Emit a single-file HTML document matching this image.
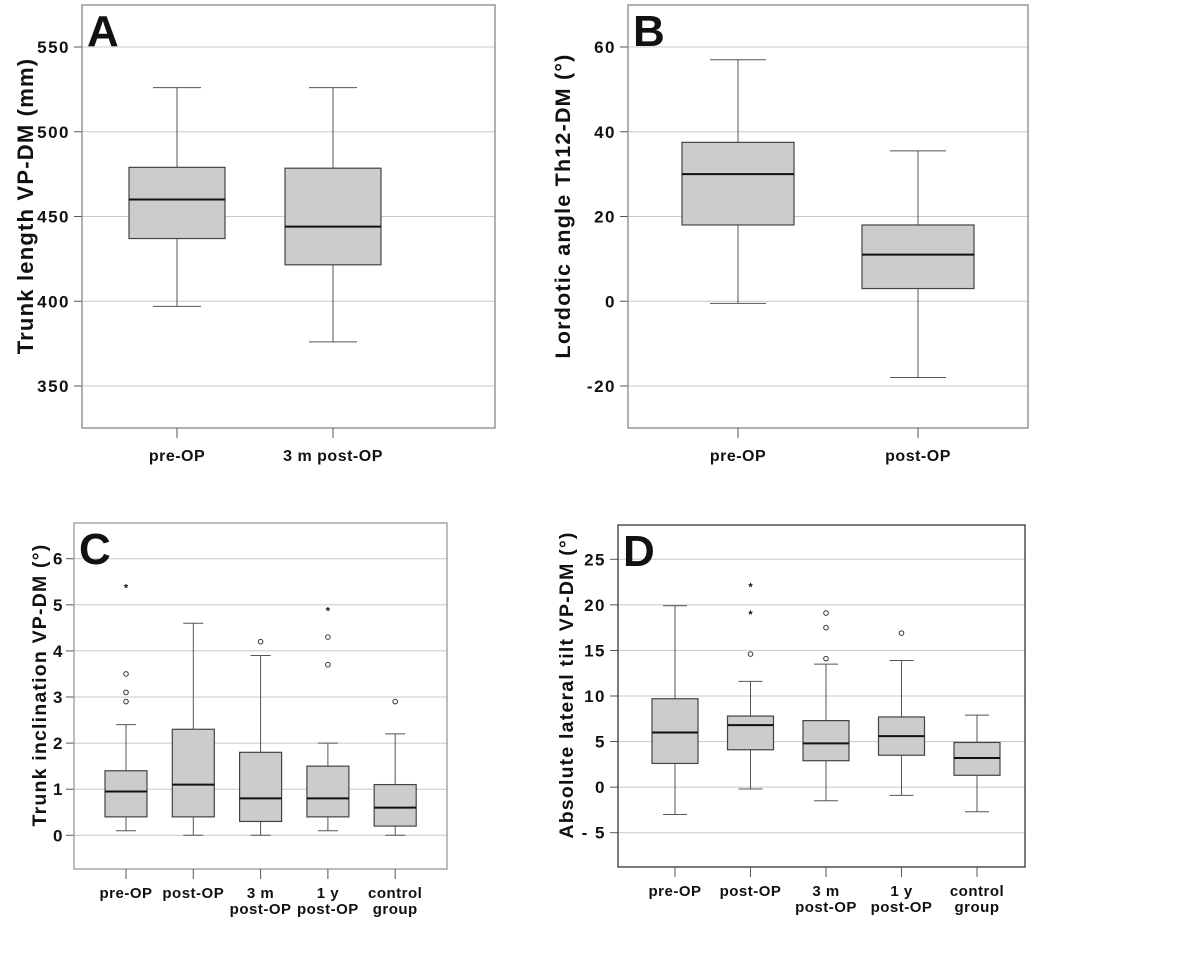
<!DOCTYPE html>
<html><head><meta charset="utf-8"><style>
html,body{margin:0;padding:0;background:#fff}
svg{display:block}
text{font-family:"Liberation Sans",Arial,sans-serif;font-weight:bold;fill:#111}
</style></head><body>
<svg id="c" width="1200" height="959" viewBox="0 0 1200 959" xmlns="http://www.w3.org/2000/svg"></svg>
<script>
// Panel A
const catsA = ["pre-OP","3 m post-OP"];
const loA = [397,376], q1A=[437,421.5], medA=[460,444], q3A=[479,478.5], hiA=[526,526];
const ticksA = [350,400,450,500,550];
// Panel B
const catsB = ["pre-OP","post-OP"];
const loB=[-0.5,-18], q1B=[18,3], medB=[30,11], q3B=[37.5,18], hiB=[57,35.5];
const ticksB=[-20,0,20,40,60];
const tickLabB=["-20","0","20","40","60"];
// Panel C
const catsC=[["pre-OP"],["post-OP"],["3 m","post-OP"],["1 y","post-OP"],["control","group"]];
const loC=[0.1,0,0,0.1,0], q1C=[0.4,0.4,0.3,0.4,0.2], medC=[0.95,1.1,0.8,0.8,0.6], q3C=[1.4,2.3,1.8,1.5,1.1], hiC=[2.4,4.6,3.9,2.0,2.2];
const circC=[[2.9,3.1,3.5],[],[4.2],[3.7,4.3],[2.9]];
const starC=[[5.4],[],[],[4.9],[]];
const ticksC=[0,1,2,3,4,5,6];
// Panel D
const catsD=catsC;
const loD=[-3,-0.2,-1.5,-0.9,-2.7], q1D=[2.6,4.1,2.9,3.5,1.3], medD=[6.0,6.8,4.8,5.6,3.2], q3D=[9.7,7.8,7.3,7.7,4.9], hiD=[19.9,11.6,13.5,13.9,7.9];
const circD=[[],[14.6],[14.1,17.5,19.1],[16.9],[]];
const starD=[[],[19.1,22.1],[],[],[]];
const ticksD=[-5,0,5,10,15,20,25];
const tickLabD=["- 5","0","5","10","15","20","25"];

const svg=document.getElementById('c');
const NS="http://www.w3.org/2000/svg";
function mk(tag,attrs,parent){const e=document.createElementNS(NS,tag);for(const k in attrs)e.setAttribute(k,attrs[k]);(parent||svg).appendChild(e);return e;}

function panel(p){
  const g=mk('g',{});
  
  
  const y=v=>p.y0+(v-p.v0)*(p.y1-p.y0)/(p.v1-p.v0);
  p.ticks.forEach((t,i)=>{
    const gl=mk('line',{x1:p.L,x2:p.R,y1:y(t),y2:y(t),stroke:'#c8c8c8','stroke-width':1},g);
    
    
    mk('line',{x1:p.L-8,x2:p.L,y1:y(t),y2:y(t),stroke:'#555','stroke-width':1},g);
    const tl=mk('text',{x:p.L-p.tickGap,y:y(t)+6,'text-anchor':'end','font-size':17,'letter-spacing':'1.5'},g);
    tl.textContent=p.tickLab?p.tickLab[i]:String(t);
    
    
  });
  const fr=mk('rect',{x:p.L,y:p.T,width:p.R-p.L,height:p.B-p.T,fill:'none',stroke:p.frame||'#888','stroke-width':1.3},g);
  
  
  const n=p.cats.length;
  for(let i=0;i<n;i++){
    const cx=p.cx0+i*p.dx;
    const bg=mk('g',{},g);
    
    
    mk('line',{x1:cx,x2:cx,y1:y(p.hi[i]),y2:y(p.q3[i]),stroke:'#555'},bg);
    mk('line',{x1:cx,x2:cx,y1:y(p.q1[i]),y2:y(p.lo[i]),stroke:'#555'},bg);
    mk('line',{x1:cx-p.cap,x2:cx+p.cap,y1:y(p.hi[i]),y2:y(p.hi[i]),stroke:'#555'},bg);
    mk('line',{x1:cx-p.cap,x2:cx+p.cap,y1:y(p.lo[i]),y2:y(p.lo[i]),stroke:'#555'},bg);
    mk('rect',{x:cx-p.hw,y:y(p.q3[i]),width:2*p.hw,height:y(p.q1[i])-y(p.q3[i]),fill:'#cccccc',stroke:'#444','stroke-width':1.2},bg);
    mk('line',{x1:cx-p.hw,x2:cx+p.hw,y1:y(p.med[i]),y2:y(p.med[i]),stroke:'#111','stroke-width':2},bg);
    (p.circ?p.circ[i]:[]).forEach(v=>{
      const c=mk('circle',{cx:cx,cy:y(v),r:2.3,fill:'none',stroke:'#333','stroke-width':1},bg);
      
      
    });
    (p.star?p.star[i]:[]).forEach(v=>{
      const s=mk('text',{x:cx,y:y(v)+5,'text-anchor':'middle','font-size':11,'font-weight':'normal'},bg);
      s.textContent='*';
      
      
    });
    mk('line',{x1:cx,x2:cx,y1:p.B,y2:p.B+10,stroke:'#555'},g);
    const lab=[].concat(p.cats[i]);
    lab.forEach((s,j)=>{
      const t=mk('text',{x:cx,y:p.labY+j*16,'text-anchor':'middle','font-size':p.labFs,'letter-spacing':'0.5'},g);
      t.textContent=s;
      
      
    });
  }
  const cy=p.titleY;
  const at=mk('text',{x:p.titleX,y:cy,'text-anchor':'middle','font-size':p.titleFs,'letter-spacing':'1.2',transform:`rotate(-90 ${p.titleX} ${cy})`},g);
  at.textContent=p.title;
  
  
  const pl=mk('text',{x:p.L+5,y:p.T+41,'font-size':44,'font-family':'"DejaVu Sans",sans-serif'},g);
  pl.textContent=p.id;
  
  
}

panel({id:'A',L:82,R:495,T:5,B:428,v0:550,y0:47,v1:350,y1:386,ticks:ticksA,cats:catsA,lo:loA,q1:q1A,med:medA,q3:q3A,hi:hiA,cx0:177,dx:156,hw:48,cap:24,labY:461,labFs:16,titleX:33,titleY:206,titleFs:22,tickGap:12,title:'Trunk length VP-DM (mm)'});
panel({id:'B',L:628,R:1028,T:5,B:428,v0:60,y0:47,v1:-20,y1:386,ticks:ticksB,tickLab:tickLabB,cats:catsB,lo:loB,q1:q1B,med:medB,q3:q3B,hi:hiB,cx0:738,dx:180,hw:56,cap:28,labY:461,labFs:16,titleX:570,titleY:206,titleFs:21.5,tickGap:12,title:'Lordotic angle Th12-DM (°)'});
panel({id:'C',L:74,R:447,T:523,B:869,v0:6,y0:558.7,v1:0,y1:835.3,ticks:ticksC,cats:catsC,lo:loC,q1:q1C,med:medC,q3:q3C,hi:hiC,circ:circC,star:starC,cx0:126,dx:67.3,hw:21,cap:10,labY:898,labFs:15,titleX:46,titleY:685,titleFs:19.5,tickGap:10,title:'Trunk inclination VP-DM (°)',frame:'#999'});
panel({id:'D',L:618,R:1025,T:525,B:867,v0:25,y0:559.3,v1:-5,y1:832.7,ticks:ticksD,tickLab:tickLabD,cats:catsD,lo:loD,q1:q1D,med:medD,q3:q3D,hi:hiD,circ:circD,star:starD,cx0:675,dx:75.5,hw:23,cap:12,labY:896,labFs:15,titleX:573,titleY:685,titleFs:19.5,tickGap:12,title:'Absolute lateral tilt VP-DM (°)',frame:'#333'});
</script>
</body></html>
